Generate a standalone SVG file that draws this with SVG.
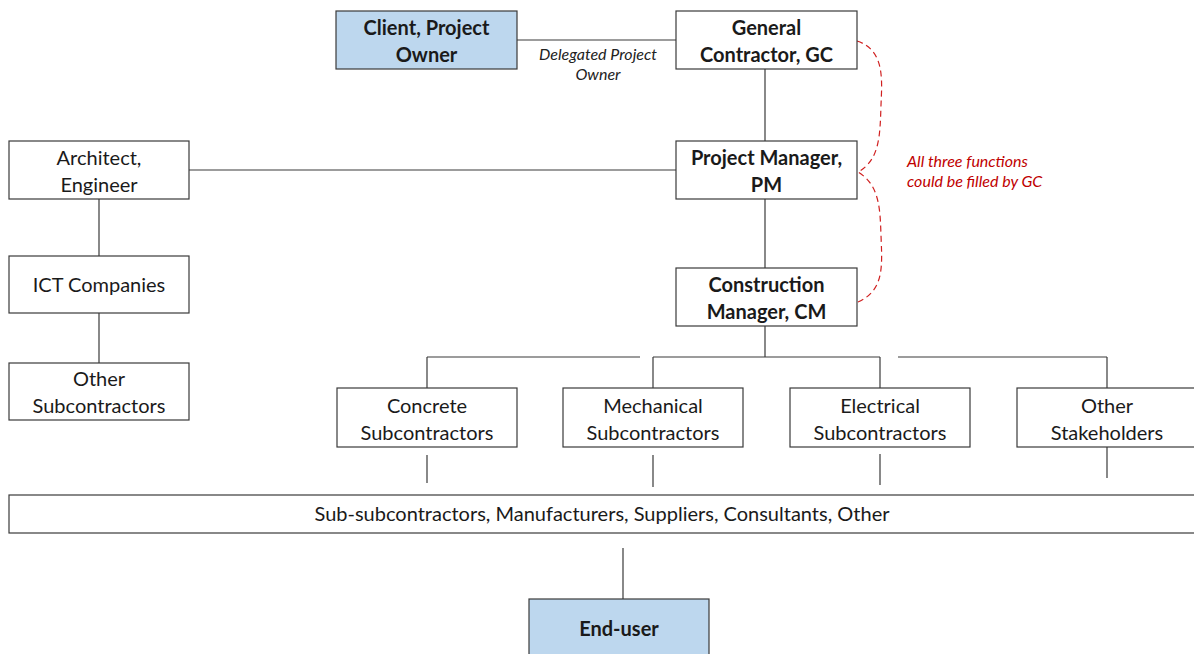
<svg xmlns="http://www.w3.org/2000/svg" width="1194" height="654" viewBox="0 0 1194 654">
  <style>
    .box { fill: #ffffff; stroke: #3a3a3a; stroke-width: 1.2; }
    .hl { fill: #bdd7ee; stroke: #3a3a3a; stroke-width: 1.2; }
    .t { font-family: Lato, "Liberation Sans", sans-serif; font-size: 20px; fill: #1a1a1a; text-anchor: middle; }
    .b { font-weight: bold; }
    .line { stroke: #3a3a3a; stroke-width: 1.2; fill: none; }
    .note { font-family: Lato, "Liberation Sans", sans-serif; font-size: 16px; font-style: italic; fill: #222; text-anchor: middle; }
    .red { font-family: Lato, "Liberation Sans", sans-serif; font-size: 16px; font-style: italic; fill: #c00000; }
    .brace { stroke: #d02020; stroke-width: 1.2; fill: none; stroke-dasharray: 6 4; }
  </style>

  <rect width="1194" height="654" fill="#ffffff"/>

  <g id="connectors">
    <line class="line" x1="517" y1="40" x2="676" y2="40"/>
    <line class="line" x1="765" y1="69" x2="765" y2="141"/>
    <line class="line" x1="189" y1="170" x2="676" y2="170"/>
    <line class="line" x1="99" y1="199" x2="99" y2="256"/>
    <line class="line" x1="99" y1="313" x2="99" y2="363"/>
    <line class="line" x1="765" y1="199" x2="765" y2="268"/>
    <line class="line" x1="765" y1="326" x2="765" y2="357"/>
    <line class="line" x1="427" y1="357" x2="640" y2="357"/>
    <line class="line" x1="653" y1="357" x2="880" y2="357"/>
    <line class="line" x1="898" y1="357" x2="1107" y2="357"/>
    <line class="line" x1="427" y1="357" x2="427" y2="388"/>
    <line class="line" x1="653" y1="357" x2="653" y2="388"/>
    <line class="line" x1="880" y1="357" x2="880" y2="388"/>
    <line class="line" x1="1107" y1="357" x2="1107" y2="388"/>
    <line class="line" x1="427" y1="455" x2="427" y2="483"/>
    <line class="line" x1="653" y1="455" x2="653" y2="487"/>
    <line class="line" x1="880" y1="454" x2="880" y2="485"/>
    <line class="line" x1="1107" y1="445" x2="1107" y2="478"/>
    <line class="line" x1="623" y1="548" x2="623" y2="599"/>
    <text class="note" x="598" y="60">Delegated Project</text>
    <text class="note" x="598" y="80">Owner</text>
  </g>

  <g id="gc-brace">
    <path class="brace" d="M857,41 C885,50 882,80 881,105 C880,135 880,160 858,172 C880,185 880,210 881,235 C882,265 885,290 858,302"/>
    <text class="red" x="907" y="167">All three functions</text>
    <text class="red" x="907" y="187">could be filled by GC</text>
  </g>

  <g id="client">
    <rect class="hl" x="336" y="11" width="181" height="58"/>
    <text class="t b" x="426.5" y="35">Client, Project</text>
    <text class="t b" x="426.5" y="62">Owner</text>
  </g>

  <g id="general-contractor">
    <rect class="box" x="676" y="11" width="181" height="58"/>
    <text class="t b" x="766.5" y="35">General</text>
    <text class="t b" x="766.5" y="62">Contractor, GC</text>
  </g>

  <g id="project-manager">
    <rect class="box" x="676" y="141" width="181" height="58"/>
    <text class="t b" x="766.5" y="165">Project Manager,</text>
    <text class="t b" x="766.5" y="192">PM</text>
  </g>

  <g id="construction-manager">
    <rect class="box" x="676" y="268" width="181" height="58"/>
    <text class="t b" x="766.5" y="292">Construction</text>
    <text class="t b" x="766.5" y="319">Manager, CM</text>
  </g>

  <g id="architect">
    <rect class="box" x="9" y="141" width="180" height="58"/>
    <text class="t" x="99" y="165">Architect,</text>
    <text class="t" x="99" y="192">Engineer</text>
  </g>

  <g id="ict">
    <rect class="box" x="9" y="256" width="180" height="57"/>
    <text class="t" x="99" y="292">ICT Companies</text>
  </g>

  <g id="other-subcontractors">
    <rect class="box" x="9" y="363" width="180" height="57"/>
    <text class="t" x="99" y="386">Other</text>
    <text class="t" x="99" y="413">Subcontractors</text>
  </g>

  <g id="concrete">
    <rect class="box" x="337" y="388" width="180" height="59"/>
    <text class="t" x="427" y="413">Concrete</text>
    <text class="t" x="427" y="440">Subcontractors</text>
  </g>

  <g id="mechanical">
    <rect class="box" x="563" y="388" width="180" height="59"/>
    <text class="t" x="653" y="413">Mechanical</text>
    <text class="t" x="653" y="440">Subcontractors</text>
  </g>

  <g id="electrical">
    <rect class="box" x="790" y="388" width="180" height="59"/>
    <text class="t" x="880" y="413">Electrical</text>
    <text class="t" x="880" y="440">Subcontractors</text>
  </g>

  <g id="other-stakeholders">
    <rect class="box" x="1017" y="388" width="180" height="59"/>
    <text class="t" x="1107" y="413">Other</text>
    <text class="t" x="1107" y="440">Stakeholders</text>
  </g>

  <g id="sub-subcontractors">
    <rect class="box" x="9" y="495" width="1190" height="38"/>
    <text class="t" x="602" y="521">Sub-subcontractors, Manufacturers, Suppliers, Consultants, Other</text>
  </g>

  <g id="end-user">
    <rect class="hl" x="529" y="599" width="180" height="60"/>
    <text class="t b" x="619" y="636">End-user</text>
  </g>
</svg>
